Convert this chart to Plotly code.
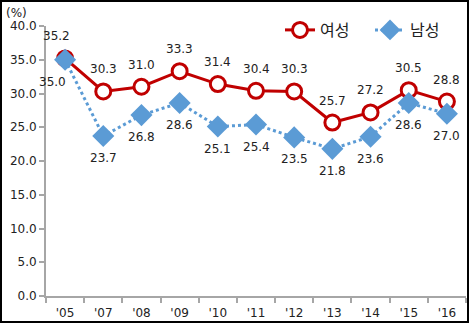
import plotly.graph_objects as go

years = ["'05", "'07", "'08", "'09", "'10", "'11", "'12", "'13", "'14", "'15", "'16"]
female = [35.2, 30.3, 31.0, 33.3, 31.4, 30.4, 30.3, 25.7, 27.2, 30.5, 28.8]
male = [35.0, 23.7, 26.8, 28.6, 25.1, 25.4, 23.5, 21.8, 23.6, 28.6, 27.0]
y_ticks = [0, 5, 10, 15, 20, 25, 30, 35, 40]

RED = "#C00000"
BLUE = "#5B9BD5"
AXIS = "#A6A6A6"
TXT = "#222222"
NUM_FONT = dict(family="DejaVu Sans, Verdana, sans-serif", size=12, color=TXT)

W, H = 469, 323
L, R, T, B = 46, 3, 26, 27
pw, ph = W - L - R, H - T - B

fig = go.Figure()
fig.add_trace(go.Scatter(
    x=years, y=female, name="여성", mode="lines+markers",
    line=dict(color=RED, width=3),
    marker=dict(symbol="circle", size=15, color="white", line=dict(color=RED, width=3)),
))
fig.add_trace(go.Scatter(
    x=years, y=male, name="남성", mode="lines+markers",
    line=dict(color=BLUE, width=3, dash="dot"),
    marker=dict(symbol="diamond", size=17, color=BLUE, line=dict(width=0)),
))

# value labels: female above, male below
for i, (yr, v) in enumerate(zip(years, female)):
    fig.add_annotation(x=yr, y=v, text=f"{v:.1f}", showarrow=False,
                       xshift=-9 if i == 0 else 0, yshift=22, font=NUM_FONT)
for i, (yr, v) in enumerate(zip(years, male)):
    fig.add_annotation(x=yr, y=v, text=f"{v:.1f}", showarrow=False,
                       xshift=-13 if i == 0 else 0, yshift=-22, font=NUM_FONT)

# unit label
fig.add_annotation(xref="paper", yref="paper", x=-30 / pw, y=1 + 13 / ph,
                   xanchor="center", yanchor="middle",
                   text="(%)", showarrow=False, font=NUM_FONT)

# outer frame
fig.add_shape(type="rect", xref="paper", yref="paper",
              x0=-(L - 1) / pw, x1=1 + (R - 1) / pw, y0=-(B - 1) / ph, y1=1 + (T - 1) / ph,
              line=dict(color="black", width=2), layer="above")

fig.update_layout(
    width=W, height=H,
    margin=dict(l=L, r=R, t=T, b=B, autoexpand=False),
    paper_bgcolor="white", plot_bgcolor="white",
    font=NUM_FONT,
    showlegend=True,
    legend=dict(orientation="h", x=(280 - L) / pw, y=1 - 4 / ph, xanchor="left", yanchor="middle",
                font=dict(family="Noto Sans CJK KR, sans-serif", size=16, color=TXT),
                bgcolor="rgba(0,0,0,0)", itemwidth=30, tracegroupgap=0,
                entrywidth=45, entrywidthmode="pixels"),
    xaxis=dict(type="category", showgrid=False, showline=True, linecolor=AXIS, linewidth=2,
               ticks="outside", tickson="boundaries", ticklen=5, tickcolor=AXIS, tickwidth=2,
               ticklabelstandoff=5,
               tickfont=NUM_FONT, range=[-0.5, len(years) - 0.5]),
    yaxis=dict(range=[0, 40], tickvals=y_ticks, ticktext=[f"{t:.1f}" for t in y_ticks],
               showgrid=False, zeroline=False, showline=True, linecolor=AXIS, linewidth=2,
               ticks="outside", ticklen=5, tickcolor=AXIS, tickwidth=2, tickfont=NUM_FONT),
)

fig.write_html("out.html")
